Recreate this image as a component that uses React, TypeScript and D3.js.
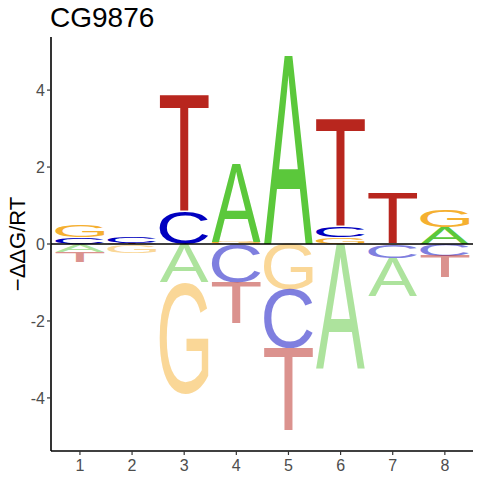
import { useMemo } from "react";
import * as d3 from "d3";

const positions = [1, 2, 3, 4, 5, 6, 7, 8];
const letters = ["A", "C", "G", "T"];
// -ddG/RT per position
const valuesA = [-0.2, -0.03, -1.0, 2.03, 4.9, -3.23, -1.0, 0.43];
const valuesC = [0.17, 0.17, 0.84, -1.0, -1.53, 0.27, -0.33, -0.31];
const valuesG = [0.31, -0.2, -2.88, 0.05, -1.18, 0.18, -0.03, 0.45];
const valuesT = [-0.27, 0.02, 3.05, -1.07, -2.16, 2.79, 1.33, -0.56];
const yTicks = [-4, -2, 0, 2, 4];

const colors = { A: "#5BC83B", C: "#0000C0", G: "#F5B030", T: "#B8261E" };

const width = 480;
const height = 480;
const margin = { top: 37, right: 7, bottom: 29, left: 51 };
const letterFont = "Liberation Sans";

export default function App() {
  const x = d3
    .scaleLinear()
    .domain([0.445, 8.54])
    .range([margin.left, width - margin.right]);
  const y = d3
    .scaleLinear()
    .domain([-5.38, 5.38])
    .range([height - margin.bottom, margin.top]);

  // tight glyph boxes measured on a canvas
  const metrics = useMemo(() => {
    const ctx = document.createElement("canvas").getContext("2d");
    ctx.font = `100px "${letterFont}"`;
    const m = {};
    letters.forEach((l) => {
      const t = ctx.measureText(l);
      m[l] = {
        left: t.actualBoundingBoxLeft,
        w: t.actualBoundingBoxLeft + t.actualBoundingBoxRight,
        asc: t.actualBoundingBoxAscent,
        h: t.actualBoundingBoxAscent + t.actualBoundingBoxDescent,
      };
    });
    return m;
  }, []);

  const table = { A: valuesA, C: valuesC, G: valuesG, T: valuesT };
  const marks = [];
  positions.forEach((p, i) => {
    const items = letters.map((l) => ({ l, v: table[l][i] }));
    const pos = items.filter((d) => d.v > 0).sort((a, b) => a.v - b.v);
    const neg = items.filter((d) => d.v < 0).sort((a, b) => b.v - a.v);
    let acc = 0;
    pos.forEach((d) => {
      marks.push({ p, l: d.l, y0: acc, y1: acc + d.v, neg: false });
      acc += d.v;
    });
    acc = 0;
    neg.forEach((d) => {
      marks.push({ p, l: d.l, y0: acc + d.v, y1: acc, neg: true });
      acc += d.v;
    });
  });

  const lw = 0.94;

  return (
    <svg
      width={width}
      height={height}
      style={{ position: "absolute", left: 0, top: 0, background: "#fff" }}
      fontFamily="Liberation Sans, Arial, sans-serif"
    >
      {marks.map((d, i) => {
        const m = metrics[d.l];
        const bx = x(d.p - lw / 2);
        const bw = x(d.p + lw / 2) - bx;
        const by = y(d.y1);
        const bh = y(d.y0) - by;
        if (bh <= 0 || !m.w) return null;
        return (
          <text
            key={i}
            fontFamily={letterFont}
            fontSize={100}
            fill={colors[d.l]}
            fillOpacity={d.neg ? 0.5 : 1}
            transform={`translate(${bx},${by}) scale(${bw / m.w},${bh / m.h}) translate(${m.left},${m.asc})`}
          >
            {d.l}
          </text>
        );
      })}

      <line
        x1={margin.left}
        x2={width - margin.right}
        y1={y(0)}
        y2={y(0)}
        stroke="#000"
        strokeWidth={1.3}
      />

      {/* y axis */}
      <line x1={margin.left} x2={margin.left} y1={margin.top} y2={height - margin.bottom} stroke="#000" strokeWidth={1.6} />
      {yTicks.map((t) => (
        <g key={t} transform={`translate(0,${y(t)})`}>
          <line x1={margin.left - 4} x2={margin.left} stroke="#333" strokeWidth={1.2} />
          <text x={margin.left - 6} dy="0.36em" textAnchor="end" fontSize={16} fill="#4D4D4D">
            {t < 0 ? `-${Math.abs(t)}` : t}
          </text>
        </g>
      ))}

      {/* x axis */}
      <line x1={margin.left} x2={width - margin.right} y1={height - margin.bottom} y2={height - margin.bottom} stroke="#000" strokeWidth={1.6} />
      {positions.map((p) => (
        <g key={p} transform={`translate(${x(p)},${height - margin.bottom})`}>
          <line y1={0} y2={4} stroke="#333" strokeWidth={1.2} />
          <text y={19.5} textAnchor="middle" fontSize={16} fill="#4D4D4D">
            {p}
          </text>
        </g>
      ))}

      <text
        transform={`translate(25,${(margin.top + height - margin.bottom) / 2}) rotate(-90)`}
        textAnchor="middle"
        fontSize={22}
        fill="#000"
      >
        −ΔΔG/RT
      </text>

      <text x={50} y={27} fontSize={28} fill="#000">
        CG9876
      </text>
    </svg>
  );
}
